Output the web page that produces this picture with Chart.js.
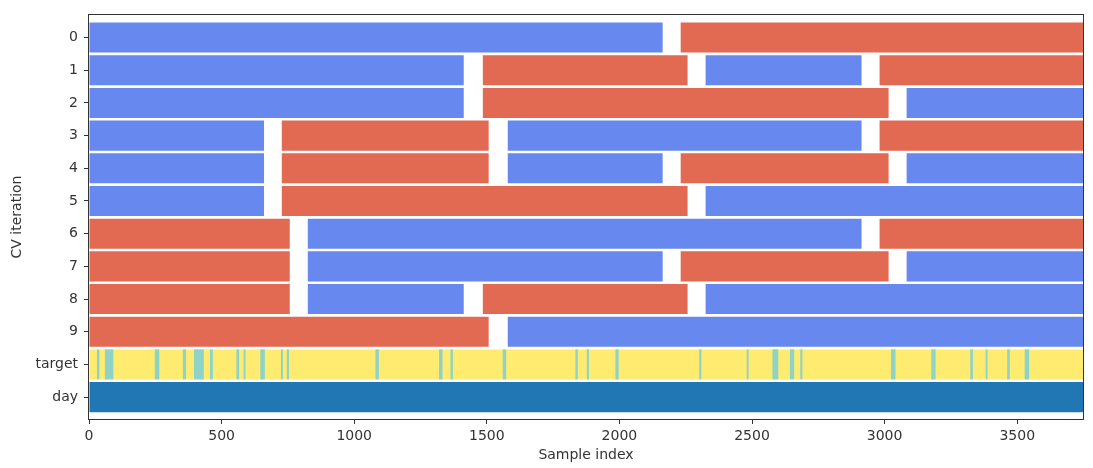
<!DOCTYPE html>
<html>
<head>
<meta charset="utf-8">
<script src="https://cdn.jsdelivr.net/npm/chart.js@4/dist/chart.umd.min.js"></script>
<style>
  html, body { margin: 0; padding: 0; background: #ffffff; }
  #wrap { width: 1093px; height: 468px; position: relative; }
</style>
</head>
<body>
<div id="wrap"><canvas id="c"></canvas></div>
<script>
// ---- data (sample indices) ----
const categories = ['0','1','2','3','4','5','6','7','8','9','target','day'];
const nSamples = 3748;
const xTicks = [0, 500, 1000, 1500, 2000, 2500, 3000, 3500];

// training segments per CV iteration [start, end]
const trainSegments = [
  [[0, 2163]],
  [[0, 1413], [2325, 2913]],
  [[0, 1413], [3083, 3748]],
  [[0, 660], [1579, 2913]],
  [[0, 660], [1579, 2163], [3083, 3748]],
  [[0, 660], [2325, 3748]],
  [[825, 2913]],
  [[825, 2163], [3083, 3748]],
  [[825, 1413], [2325, 3748]],
  [[1579, 3748]]
];
// testing segments per CV iteration [start, end]
const testSegments = [
  [[2231, 3748]],
  [[1485, 2257], [2981, 3748]],
  [[1485, 3015]],
  [[727, 1507], [2981, 3748]],
  [[727, 1507], [2231, 3015]],
  [[727, 2257]],
  [[0, 757], [2981, 3748]],
  [[0, 757], [2231, 3015]],
  [[0, 757], [1485, 2257]],
  [[0, 1507]]
];
// target class-0 runs (the rest of the samples are class 1)
const targetClass0 = [
  [30, 39], [60, 92], [248, 265], [354, 366], [396, 433], [456, 467],
  [556, 566], [583, 590], [646, 663], [724, 731], [746, 754],
  [1080, 1093], [1320, 1333], [1363, 1372], [1560, 1573], [1834, 1843],
  [1877, 1885], [1985, 1997], [2301, 2309], [2480, 2487], [2577, 2599],
  [2643, 2659], [2682, 2690], [3024, 3041], [3176, 3192], [3323, 3333],
  [3381, 3388], [3462, 3472], [3528, 3545]
];
// day groups
const daySegments = [[0, 3748]];

// ---- build datasets ----
function rowsToPoints(rows) {
  const pts = [];
  rows.forEach((segs, r) => segs.forEach(s => pts.push({ x: [s[0], s[1]], y: r })));
  return pts;
}
const targetRow = categories.indexOf('target');
const dayRow = categories.indexOf('day');

const datasets = [
  { label: 'train', data: rowsToPoints(trainSegments), backgroundColor: '#6788ee', order: 1 },
  { label: 'test', data: rowsToPoints(testSegments), backgroundColor: '#e26952', order: 1 },
  { label: 'target class 0', data: targetClass0.map(s => ({ x: [s[0], s[1]], y: targetRow })), backgroundColor: '#8dd3c7', order: 1 },
  { label: 'target class 1', data: [{ x: [0, nSamples], y: targetRow }], backgroundColor: '#ffeb6f', order: 2 },
  { label: 'day', data: daySegments.map(s => ({ x: [s[0], s[1]], y: dayRow })), backgroundColor: '#2077b4', order: 1 }
];

const framePlugin = {
  id: 'frame',
  afterDatasetsDraw(chart) {
    const a = chart.chartArea, ctx = chart.ctx;
    ctx.save();
    ctx.strokeStyle = '#333333';
    ctx.lineWidth = 1;
    ctx.strokeRect(Math.round(a.left) - 0.5, Math.round(a.top) - 0.5, Math.round(a.right - a.left) + 1, Math.round(a.bottom - a.top) + 1);
    ctx.restore();
  }
};

const font = { family: 'DejaVu Sans', size: 14 };

new Chart(document.getElementById('c'), {
  type: 'bar',
  data: { datasets },
  options: {
    indexAxis: 'y',
    responsive: true,
    maintainAspectRatio: false,
    animation: false,
    grouped: false,
    barPercentage: 0.92,
    categoryPercentage: 1.0,
    borderWidth: 0,
    layout: { padding: { top: 15, right: 10, bottom: 0, left: 0 } },
    plugins: { legend: { display: false }, tooltip: { enabled: false } },
    scales: {
      x: {
        type: 'linear',
        min: 0,
        max: nSamples,
        afterBuildTicks: s => { s.ticks = xTicks.map(v => ({ value: v })); },
        afterFit: s => { s.height = 49; },
        grid: { drawOnChartArea: false, drawTicks: true, tickLength: 5, color: '#333333' },
        border: { display: false },
        ticks: { font, color: '#333333', padding: 4, maxRotation: 0, callback: v => String(v) },
        title: { display: true, text: 'Sample index', font, color: '#333333', padding: { top: 0, bottom: 4 } }
      },
      y: {
        type: 'linear',
        reverse: true,
        offset: false,
        min: -0.69,
        max: 11.67,
        afterBuildTicks: s => { s.ticks = categories.map((c, i) => ({ value: i })); },
        afterFit: s => { s.width = 89; },
        grid: { offset: false, drawOnChartArea: false, drawTicks: true, tickLength: 5, color: '#333333' },
        border: { display: false },
        ticks: { font, color: '#333333', padding: 6, callback: v => categories[v] },
        title: { display: true, text: 'CV iteration', font, color: '#333333', padding: { top: 9, bottom: 0 } }
      }
    }
  },
  plugins: [framePlugin]
});
</script>
</body>
</html>
